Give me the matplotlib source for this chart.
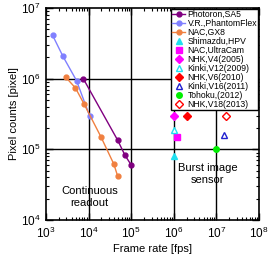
import matplotlib.pyplot as plt
from matplotlib.ticker import LogLocator, NullFormatter

plt.rcParams['font.family'] = ['Liberation Sans', 'DejaVu Sans']

# continuous readout cameras (frame rate [fps], pixel counts)
sa5_fps = [7.5e3, 4.8e4, 7.1e4, 1.0e5]
sa5_pix = [1.0e6, 1.35e5, 8.3e4, 6.0e4]
flex_fps = [1.43e3, 2.5e3, 5.2e3, 1.05e4]
flex_pix = [4.1e6, 2.07e6, 9.4e5, 3.0e5]
gx8_fps = [2.9e3, 4.9e3, 7.8e3, 1.95e4, 3.9e4, 4.8e4]
gx8_pix = [1.05e6, 7.4e5, 4.4e5, 1.5e5, 6.2e4, 4.2e4]

# burst image sensors
burst_names = ["Shimazdu,HPV", "NAC,UltraCam", "NHK,V4(2005)", "Kinki,V12(2009)",
               "NHK,V6(2010)", "Kinki,V16(2011)", "Tohoku,(2012)", "NHK,V18(2013)"]
burst_fps = [1.0e6, 1.2e6, 1.0e6, 1.0e6, 2.0e6, 1.5e7, 1.0e7, 1.66e7]
burst_pix = [8.0e4, 1.48e5, 3.0e5, 1.9e5, 3.0e5, 1.6e5, 1.0e5, 3.0e5]
burst_marker = ['^', 's', 'D', '^', 'D', '^', 'o', 'D']
burst_color = ['#20e0f0', '#ff00ff', '#ff00ff', '#20e0f0', '#ff0000', '#2020d0', '#00ee00', '#ff0000']
burst_filled = [True, True, True, False, True, False, True, False]

fig = plt.figure(figsize=(2.7, 2.61), dpi=100)
ax = fig.add_axes([46/270, 1-220/261, 213/270, 212/261])

ax.plot(sa5_fps, sa5_pix, '-o', color='#800080', ms=3.5, lw=1, label="Photoron,SA5")
ax.plot(flex_fps, flex_pix, '-o', color='#8080ff', ms=3.5, lw=1, label="V.R.,PhantomFlex")
ax.plot(gx8_fps, gx8_pix, '-o', color='#f08040', ms=3.5, lw=1, label="NAC,GX8")

for n, x, y, m, c, f in zip(burst_names, burst_fps, burst_pix, burst_marker, burst_color, burst_filled):
    ax.plot([x], [y], linestyle='none', marker=m, ms=4 if m != 'D' else 3.6, color=c,
            mfc=c if f else 'white', mec=c, mew=1, label=n, zorder=4)

ax.set_xscale('log')
ax.set_yscale('log')
ax.set_xlim(1e3, 1e8)
ax.set_ylim(1e4, 1e7)

for v in [1e4, 1e5, 1e6, 1e7]:
    ax.axvline(v, color='black', lw=1, zorder=1)
for v in [1e5, 1e6]:
    ax.axhline(v, color='black', lw=1, zorder=1)

ax.xaxis.set_minor_locator(LogLocator(base=10, subs=range(2, 10), numticks=20))
ax.yaxis.set_minor_locator(LogLocator(base=10, subs=range(2, 10), numticks=20))
ax.xaxis.set_minor_formatter(NullFormatter())
ax.yaxis.set_minor_formatter(NullFormatter())
ax.tick_params(which='both', direction='in', top=True, right=True, labelsize=8.5)
ax.tick_params(which='major', length=5, width=1, pad=4)
ax.tick_params(which='minor', length=2.5, width=0.8)
for s in ax.spines.values():
    s.set_linewidth(1.2)

ax.set_xlabel("Frame rate [fps]", fontsize=8, labelpad=2)
ax.set_ylabel("Pixel counts [pixel]", fontsize=8, labelpad=1)

ax.text(1.05e4, 2.1e4, "Continuous\nreadout", ha='center', va='center', fontsize=8,
        linespacing=1.3, zorder=5)
ax.text(6.2e6, 4.5e4, "Burst image\nsensor", ha='center', va='center', fontsize=8,
        linespacing=1.3, zorder=5)

leg = ax.legend(loc='upper right', fontsize=6.2, frameon=True, fancybox=False,
                edgecolor='black', framealpha=1, borderpad=0.1, labelspacing=0.0,
                handlelength=1.5, handletextpad=0.3, borderaxespad=0.1)
leg.get_frame().set_linewidth(1)
leg.set_zorder(10)

fig.savefig("out.png", dpi=100)
